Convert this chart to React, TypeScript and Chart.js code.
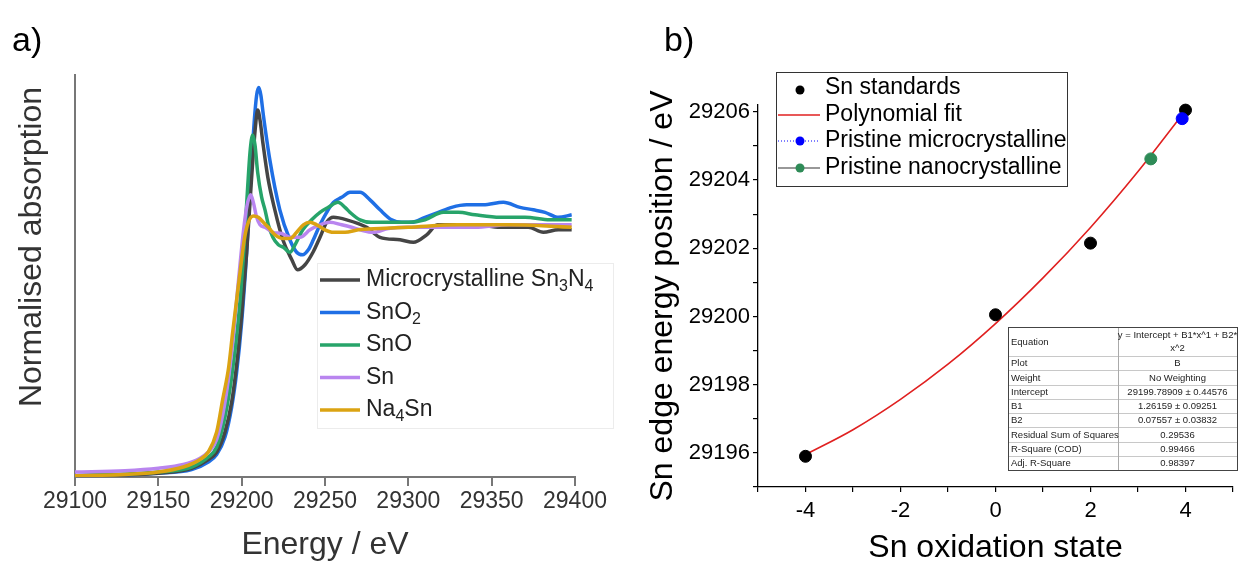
import React, { useEffect, useRef } from 'react';
import { Chart, registerables } from 'chart.js';

Chart.register(...registerables);

const FONT = '"Liberation Sans", Arial, sans-serif';

// ---------- Panel a) : normalised Sn K-edge XANES ----------
const seriesNamesA = ['Microcrystalline Sn3N4', 'SnO2', 'SnO', 'Sn', 'Na4Sn'];
const seriesColorsA = ['#454545', '#1f6fe5', '#27a46a', '#b985ef', '#dba312'];

const sn3n4E = [29100, 29150, 29170, 29180, 29185, 29190, 29194, 29197, 29200, 29203, 29205, 29207, 29208.5, 29209.6, 29211, 29212.7, 29215.7, 29219.9, 29224.7, 29230.1, 29233.5, 29238, 29242.8, 29247, 29251, 29255, 29263, 29275, 29283, 29295, 29303, 29311, 29317.5, 29325, 29340, 29355, 29372, 29381, 29390, 29398];
const sn3n4Y = [0.005, 0.015, 0.035, 0.07, 0.1, 0.18, 0.3, 0.45, 0.65, 0.9, 1.1, 1.3, 1.42, 1.47, 1.43, 1.34, 1.2, 1.07, 0.95, 0.87, 0.83, 0.85, 0.9, 0.96, 1.02, 1.04, 1.03, 1.0, 0.96, 0.95, 0.94, 0.97, 1.01, 1.01, 1.01, 1.0, 1.0, 0.98, 0.99, 0.99];

const sno2E = [29100, 29150, 29170, 29180, 29185, 29190, 29194, 29197, 29200, 29203, 29205.5, 29207.5, 29209, 29210.3, 29211.5, 29213, 29216.9, 29222.9, 29228.9, 29233, 29236.5, 29240, 29243, 29247, 29251, 29255, 29260, 29265, 29271, 29277, 29283, 29290, 29296, 29302, 29310, 29318, 29326, 29335, 29345, 29357, 29367, 29375, 29382, 29390, 29398];
const sno2Y = [0.005, 0.015, 0.03, 0.06, 0.09, 0.16, 0.28, 0.42, 0.62, 0.9, 1.2, 1.42, 1.53, 1.56, 1.53, 1.45, 1.27, 1.07, 0.95, 0.9, 0.89, 0.91, 0.95, 1.01, 1.06, 1.1, 1.12, 1.14, 1.14, 1.11, 1.07, 1.03, 1.02, 1.02, 1.04, 1.06, 1.08, 1.09, 1.09, 1.1, 1.08, 1.07, 1.06, 1.04, 1.05];

const snoE = [29100, 29150, 29170, 29180, 29185, 29190, 29194, 29198, 29201, 29203.5, 29205, 29206.6, 29208, 29209.6, 29212, 29214, 29216, 29218.7, 29222, 29225, 29229, 29232, 29236.7, 29242, 29247, 29252, 29257.8, 29262, 29265, 29271, 29278, 29290, 29300, 29310, 29321, 29330, 29340, 29355, 29370, 29385, 29398];
const snoY = [0.005, 0.02, 0.04, 0.08, 0.12, 0.24, 0.4, 0.63, 0.88, 1.15, 1.3, 1.37, 1.33, 1.22, 1.12, 1.07, 1.01, 0.96, 0.93, 0.92, 0.9, 0.93, 0.99, 1.03, 1.06, 1.08, 1.1, 1.08, 1.06, 1.03, 1.02, 1.02, 1.02, 1.03, 1.06, 1.06, 1.05, 1.04, 1.04, 1.03, 1.03];

const snE = [29100, 29130, 29150, 29165, 29175, 29180, 29185, 29190, 29194, 29198, 29201, 29203, 29205.4, 29207, 29209, 29211, 29214, 29218.7, 29224, 29229, 29235, 29241, 29247, 29253, 29260, 29266, 29271, 29279, 29288, 29300, 29320, 29340, 29360, 29380, 29398];
const snY = [0.02, 0.025, 0.035, 0.05, 0.075, 0.1, 0.15, 0.3, 0.5, 0.78, 0.98, 1.08, 1.13, 1.1, 1.04, 1.01, 1.0, 0.98, 0.975, 0.96, 0.96, 0.99, 1.01, 1.02, 1.01, 1.0, 0.99, 0.98, 0.995, 1.0, 1.0, 1.0, 1.01, 1.01, 1.01];

const na4snE = [29100, 29130, 29150, 29165, 29175, 29180, 29185, 29188.6, 29192.2, 29194.6, 29197, 29199.4, 29201.8, 29204, 29207, 29210, 29213, 29216, 29220, 29225, 29229, 29233, 29237, 29241, 29245, 29250, 29255, 29262, 29270, 29283, 29300, 29330, 29360, 29398];
const na4snY = [0.005, 0.01, 0.02, 0.04, 0.07, 0.1, 0.18, 0.31, 0.44, 0.58, 0.71, 0.84, 0.96, 1.02, 1.045, 1.04, 1.02, 1.0, 0.97, 0.955, 0.955, 0.98, 1.01, 1.02, 1.01, 0.99, 0.98, 0.98, 0.99, 0.995, 1.0, 1.01, 1.01, 1.0];

const energyMin = 29100;
const energyMax = 29400;
const energyStep = 50;

// ---------- Panel b) : edge position vs oxidation state ----------
const standardsX = [-4, 0, 2, 4];
const standardsY = [29195.9, 29200.05, 29202.15, 29206.05];
const microX = [3.93];
const microY = [29205.8];
const nanoX = [3.27];
const nanoY = [29204.62];
const fitX = [-4, -3, -2, -1, 0, 1, 2, 3, 4];
const fitY = [29195.95, 29196.68, 29197.57, 29198.6, 29199.79, 29201.13, 29202.61, 29204.25, 29206.04];

const legendNamesB = ['Sn standards', 'Polynomial fit', 'Pristine microcrystalline', 'Pristine nanocrystalline'];

const tableLabels = ['Equation', 'Plot', 'Weight', 'Intercept', 'B1', 'B2', 'Residual Sum of Squares', 'R-Square (COD)', 'Adj. R-Square'];
const tableValues = ['y = Intercept + B1*x^1 + B2*\nx^2', 'B', 'No Weighting', '29199.78909 \u00b1 0.44576', '1.26159 \u00b1 0.09251', '0.07557 \u00b1 0.03832', '0.29536', '0.99466', '0.98397'];

function toPts(xs: number[], ys: number[]) {
  return xs.map((x, i) => ({ x, y: ys[i] }));
}

function drawSubText(ctx: CanvasRenderingContext2D, text: string, x: number, y: number, size: number) {
  const parts = text.split(/(\d)/).filter((p) => p.length > 0);
  let cx = x;
  for (const p of parts) {
    const sub = /^\d$/.test(p);
    const fs = sub ? Math.round(size * 0.68) : size;
    ctx.font = `${fs}px ${FONT}`;
    ctx.fillText(p, cx, sub ? y + size * 0.3 : y);
    cx += ctx.measureText(p).width;
  }
}

const panelAPlugin = {
  id: 'panelA',
  afterDraw(chart: any) {
    const ctx: CanvasRenderingContext2D = chart.ctx;
    ctx.save();
    ctx.fillStyle = '#000';
    ctx.textBaseline = 'middle';
    ctx.textAlign = 'left';
    ctx.font = `34px ${FONT}`;
    ctx.fillText('a)', 12, 42);

    // y-axis title
    ctx.save();
    ctx.translate(32, 247);
    ctx.rotate(-Math.PI / 2);
    ctx.textAlign = 'center';
    ctx.fillStyle = '#333';
    ctx.font = `32px ${FONT}`;
    ctx.fillText('Normalised absorption', 0, 0);
    ctx.restore();

    // legend
    ctx.fillStyle = 'rgba(255,255,255,0.95)';
    ctx.fillRect(317, 263, 296, 165);
    ctx.strokeStyle = '#ececec';
    ctx.lineWidth = 1;
    ctx.strokeRect(317.5, 263.5, 296, 165);
    seriesNamesA.forEach((name, i) => {
      const y = 280 + i * 32.5;
      ctx.strokeStyle = seriesColorsA[i];
      ctx.lineWidth = 3.5;
      ctx.beginPath();
      ctx.moveTo(320, y);
      ctx.lineTo(360, y);
      ctx.stroke();
      ctx.fillStyle = '#222';
      ctx.textAlign = 'left';
      ctx.textBaseline = 'middle';
      drawSubText(ctx, name, 366, y, 23);
    });
    ctx.restore();
  },
};

const panelBPlugin = {
  id: 'panelB',
  afterDraw(chart: any) {
    const ctx: CanvasRenderingContext2D = chart.ctx;
    ctx.save();
    ctx.fillStyle = '#000';
    ctx.textBaseline = 'middle';
    ctx.textAlign = 'left';
    ctx.font = `34px ${FONT}`;
    ctx.fillText('b)', 44, 42);

    // legend box
    const lx = 156, ly = 72, lw = 291, lh = 114;
    ctx.fillStyle = '#fff';
    ctx.fillRect(lx, ly, lw, lh);
    ctx.strokeStyle = '#333';
    ctx.lineWidth = 1;
    ctx.strokeRect(lx + 0.5, ly + 0.5, lw, lh);
    const rowsY = [88, 115, 141, 168];
    const sx = 180;
    // Sn standards: black dot
    ctx.fillStyle = '#000';
    ctx.beginPath();
    ctx.arc(sx, rowsY[0] + 2, 4.5, 0, Math.PI * 2);
    ctx.fill();
    // Polynomial fit: red line
    ctx.strokeStyle = '#e02020';
    ctx.lineWidth = 1.5;
    ctx.beginPath();
    ctx.moveTo(158, rowsY[1]);
    ctx.lineTo(200, rowsY[1]);
    ctx.stroke();
    // micro: dotted blue line + blue dot
    ctx.strokeStyle = '#0000ff';
    ctx.lineWidth = 1;
    ctx.setLineDash([1, 2]);
    ctx.beginPath();
    ctx.moveTo(158, rowsY[2]);
    ctx.lineTo(200, rowsY[2]);
    ctx.stroke();
    ctx.setLineDash([]);
    ctx.fillStyle = '#0000ff';
    ctx.beginPath();
    ctx.arc(sx, rowsY[2], 4.5, 0, Math.PI * 2);
    ctx.fill();
    // nano: dark line + green dot
    ctx.strokeStyle = '#333';
    ctx.lineWidth = 1.2;
    ctx.beginPath();
    ctx.moveTo(158, rowsY[3]);
    ctx.lineTo(200, rowsY[3]);
    ctx.stroke();
    ctx.fillStyle = '#2e8b57';
    ctx.beginPath();
    ctx.arc(sx, rowsY[3], 4.5, 0, Math.PI * 2);
    ctx.fill();
    ctx.fillStyle = '#000';
    ctx.font = `23px ${FONT}`;
    legendNamesB.forEach((n, i) => ctx.fillText(n, 205, rowsY[i]));

    // fit statistics table
    const tx = 388, tr = 617, tcol = 498, ttop = 327, eqH = 29, rowH = 14.25;
    const tb = ttop + eqH + rowH * (tableLabels.length - 1);
    ctx.fillStyle = '#fff';
    ctx.fillRect(tx, ttop, tr - tx, tb - ttop);
    ctx.strokeStyle = '#c8c8c8';
    ctx.lineWidth = 1;
    for (let i = 1; i < tableLabels.length; i++) {
      const yy = Math.round(ttop + eqH + rowH * (i - 1)) + 0.5;
      ctx.beginPath();
      ctx.moveTo(tx, yy);
      ctx.lineTo(tr, yy);
      ctx.stroke();
    }
    ctx.strokeStyle = '#aaa';
    ctx.beginPath();
    ctx.moveTo(tcol + 0.5, ttop);
    ctx.lineTo(tcol + 0.5, tb);
    ctx.stroke();
    ctx.strokeStyle = '#444';
    ctx.strokeRect(tx + 0.5, ttop + 0.5, tr - tx, tb - ttop);
    ctx.fillStyle = '#222';
    ctx.font = `9.5px ${FONT}`;
    tableLabels.forEach((lab, i) => {
      const top = i === 0 ? ttop : ttop + eqH + rowH * (i - 1);
      const h = i === 0 ? eqH : rowH;
      const cy = top + h / 2 + 0.5;
      ctx.textAlign = 'left';
      ctx.fillText(lab, tx + 3, cy);
      ctx.textAlign = 'center';
      const lines = tableValues[i].split('\n');
      const mid = (tcol + tr) / 2;
      if (lines.length === 1) {
        ctx.fillText(lines[0], mid, cy);
      } else {
        ctx.fillText(lines[0], mid, top + 8);
        ctx.fillText(lines[1], mid, top + 21);
      }
    });
    ctx.restore();
  },
};

function PanelA() {
  const ref = useRef<HTMLCanvasElement | null>(null);
  useEffect(() => {
    if (!ref.current) return;
    const xs = [sn3n4E, sno2E, snoE, snE, na4snE];
    const ys = [sn3n4Y, sno2Y, snoY, snY, na4snY];
    const orders = [4, 5, 3, 2, 1];
    const chart = new Chart(ref.current, {
      type: 'line',
      data: {
        datasets: seriesNamesA.map((name, i) => ({
          label: name,
          data: toPts(xs[i], ys[i]),
          borderColor: seriesColorsA[i],
          backgroundColor: seriesColorsA[i],
          borderWidth: 3.5,
          pointRadius: 0,
          fill: false,
          cubicInterpolationMode: 'monotone' as const,
          order: orders[i],
        })),
      },
      options: {
        animation: false,
        responsive: false,
        devicePixelRatio: 1,
        layout: { padding: { top: 75, right: 45, left: 0, bottom: 0 } },
        plugins: { legend: { display: false }, tooltip: { enabled: false } },
        scales: {
          x: {
            type: 'linear',
            min: energyMin,
            max: energyMax,
            afterFit: (s: any) => { s.height = 89; },
            ticks: {
              stepSize: energyStep,
              autoSkip: false,
              maxRotation: 0,
              padding: 2,
              color: '#333',
              font: { family: FONT, size: 23 },
              callback: (v: any) => String(v),
            },
            grid: { drawOnChartArea: false, drawTicks: true, tickLength: 9, color: '#777', lineWidth: 2 },
            border: { display: true, color: '#777', width: 2 },
            title: {
              display: true,
              text: 'Energy / eV',
              color: '#333',
              font: { family: FONT, size: 32, lineHeight: 1 },
              padding: { top: 0, bottom: 5 },
            },
          },
          y: {
            type: 'linear',
            min: 0,
            max: 1.61,
            afterFit: (s: any) => { s.width = 75; },
            ticks: { display: false },
            grid: { drawOnChartArea: false, drawTicks: false, color: '#777' },
            border: { display: true, color: '#777', width: 2 },
          },
        },
      },
      plugins: [panelAPlugin],
    } as any);
    return () => chart.destroy();
  }, []);
  return <canvas ref={ref} width={620} height={566} style={{ display: 'block' }} />;
}

function PanelB() {
  const ref = useRef<HTMLCanvasElement | null>(null);
  useEffect(() => {
    if (!ref.current) return;
    const chart = new Chart(ref.current, {
      type: 'scatter',
      data: {
        datasets: [
          { label: legendNamesB[3], data: toPts(nanoX, nanoY), backgroundColor: '#2e8b57', borderColor: '#2e8b57', pointRadius: 6, showLine: false, clip: false },
          { label: legendNamesB[2], data: toPts(microX, microY), backgroundColor: '#0000ff', borderColor: '#0000ff', pointRadius: 6, showLine: false, clip: false },
          { label: legendNamesB[0], data: toPts(standardsX, standardsY), backgroundColor: '#000', borderColor: '#000', pointRadius: 6, showLine: false, clip: false },
          {
            label: legendNamesB[1],
            data: toPts(fitX, fitY),
            borderColor: '#e02020',
            backgroundColor: '#e02020',
            borderWidth: 1.6,
            pointRadius: 0,
            showLine: true,
            clip: false,
            cubicInterpolationMode: 'monotone',
          },
        ],
      },
      options: {
        animation: false,
        responsive: false,
        devicePixelRatio: 1,
        layout: { padding: { top: 105, right: 7, left: 0, bottom: 0 } },
        plugins: { legend: { display: false }, tooltip: { enabled: false } },
        scales: {
          x: {
            type: 'linear',
            min: -5,
            max: 5,
            afterFit: (s: any) => { s.height = 79; },
            ticks: {
              stepSize: 1,
              autoSkip: false,
              maxRotation: 0,
              padding: 6,
              color: '#000',
              font: { family: FONT, size: 22 },
              callback: (v: any) => (Math.round(v) % 2 === 0 ? String(v) : ''),
            },
            grid: { drawOnChartArea: false, drawTicks: true, tickLength: 5, color: '#000', lineWidth: 1.2 },
            border: { display: true, color: '#000', width: 1.3 },
            title: {
              display: true,
              text: 'Sn oxidation state',
              color: '#000',
              font: { family: FONT, size: 32, lineHeight: 1 },
              padding: { top: 0, bottom: 2 },
            },
          },
          y: {
            type: 'linear',
            min: 29195,
            max: 29206.2,
            afterFit: (s: any) => { s.width = 138; },
            ticks: {
              stepSize: 1,
              includeBounds: false,
              autoSkip: false,
              padding: 3,
              color: '#000',
              font: { family: FONT, size: 22 },
              callback: (v: any) => (Math.round(v) % 2 === 0 ? String(v) : ''),
            },
            grid: { drawOnChartArea: false, drawTicks: true, tickLength: 5, color: '#000', lineWidth: 1.2 },
            border: { display: true, color: '#000', width: 1.3 },
            title: {
              display: true,
              text: 'Sn edge energy position / eV',
              color: '#000',
              font: { family: FONT, size: 32, lineHeight: 1 },
              padding: { top: 27, bottom: 0 },
            },
          },
        },
      },
      plugins: [panelBPlugin],
    } as any);
    return () => chart.destroy();
  }, []);
  return <canvas ref={ref} width={620} height={566} style={{ display: 'block' }} />;
}

export default function App() {
  return (
    <div style={{ position: 'absolute', left: 0, top: 0, width: 1240, height: 566, display: 'flex', background: '#fff' }}>
      <PanelA />
      <PanelB />
    </div>
  );
}
